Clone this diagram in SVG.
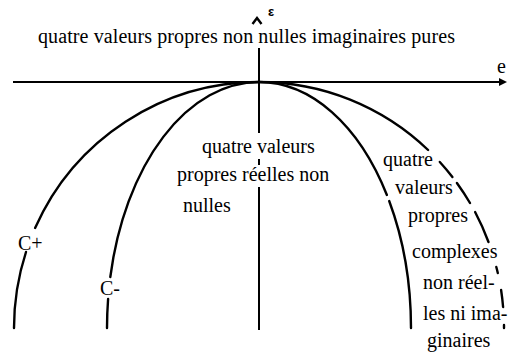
<svg xmlns="http://www.w3.org/2000/svg" width="510" height="357" viewBox="0 0 510 357">
<style>
  text { font-family: "Liberation Serif", "Times New Roman", serif; font-size: 20px; fill: #000; }
  .ax { stroke: #000; stroke-width: 2; fill: none; }
  .cv { stroke: #000; stroke-width: 2.4; fill: none; stroke-linecap: round; }
</style>
<rect width="510" height="357" fill="#fff"/>
<g id="connectors">
  <g id="axis-e">
    <line class="ax" x1="13" y1="82" x2="501" y2="82"/>
    <polygon points="499,78 507,82 499,86" fill="#000"/>
  </g>
  <g id="axis-epsilon">
    <path class="ax" d="M259 48 V133 M259 159 V165 M259 187 V330"/>
    <polyline points="252.5,24 257,18 261.5,24" fill="none" stroke="#000" stroke-width="2.4"/>
  </g>
  <g id="curve-Cplus-left">
    <path class="cv" d="M14 328 A245 246 0 0 1 26 252 M35.1 228 A245 246 0 0 1 259 82"/>
  </g>
  <g id="curve-Cminus-left">
    <path class="cv" d="M107 328 A152 246 0 0 1 108.1 299 M110.3 277 A152 246 0 0 1 259 82"/>
  </g>
  <g id="curve-inner-right">
    <path class="cv" d="M259 82 A152 246 0 0 1 386.9 195 M389.2 201 A152 246 0 0 1 411 328"/>
  </g>
  <g id="curve-outer-right">
    <path class="cv" d="M259 82 A245 246 0 0 1 428.1 150 M439.8 162 A245 246 0 0 1 452.4 177 M456.9 183 A245 246 0 0 1 470 203 M475.1 212 A245 246 0 0 1 488.5 242 M496.3 267 A245 246 0 0 1 497.8 273 M501.1 290 A245 246 0 0 1 503.1 307 M504 325 L504 328"/>
  </g>
</g>
<g id="label-epsilon"><text x="268" y="16" style="font-family:'Liberation Sans',Arial,sans-serif;font-size:13px;font-weight:bold">ε</text></g>
<g id="label-e"><text x="497" y="73">e</text></g>
<g id="region-top"><text x="38" y="43" textLength="417" lengthAdjust="spacing">quatre valeurs propres non nulles imaginaires pures</text></g>
<g id="region-middle">
  <text x="202" y="153">quatre valeurs</text>
  <text x="177" y="181">propres réelles non</text>
  <text x="183" y="212">nulles</text>
</g>
<g id="region-right">
  <text x="383" y="166">quatre</text>
  <text x="395" y="194">valeurs</text>
  <text x="408" y="222">propres</text>
  <text x="412" y="258">complexes</text>
  <text x="423" y="289">non réel-</text>
  <text x="423" y="320">les ni ima-</text>
  <text x="427" y="347">ginaires</text>
</g>
<g id="label-Cplus"><text x="18" y="250">C+</text></g>
<g id="label-Cminus"><text x="100" y="295">C-</text></g>
</svg>
